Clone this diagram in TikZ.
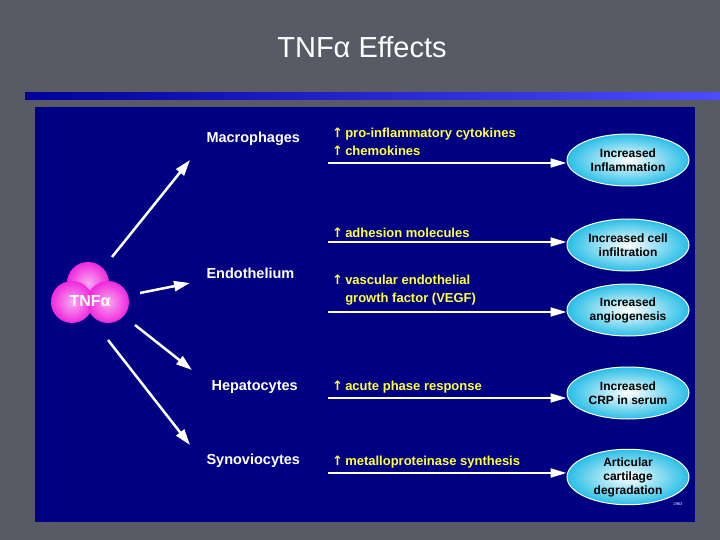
\documentclass[tikz,border=0pt]{standalone}
\usepackage{fontspec}
\setmainfont{Liberation Sans}
\newfontfamily\djv{DejaVu Sans}
\usetikzlibrary{arrows.meta,shapes.geometric}
\definecolor{bggray}{RGB}{88,90,102}
\definecolor{panel}{RGB}{0,0,130}
\definecolor{ylw}{RGB}{255,255,60}
\definecolor{mag}{RGB}{240,40,220}
\definecolor{cyanc}{RGB}{40,190,230}
\newcommand{\up}{{\djv\bfseries ↑}}
\begin{document}
\begin{tikzpicture}[x=1pt,y=-1pt,
 lbl/.style={text=white,font=\bfseries\fontsize{14.5}{17}\selectfont,anchor=west},
 ytx/.style={text=ylw,font=\bfseries\fontsize{13}{18}\selectfont,anchor=west,align=left,inner sep=0pt},
 eff/.style={ellipse,draw=white,line width=1pt,inner color=white,outer color=cyanc,minimum width=122pt,minimum height=52pt,font=\bfseries\fontsize{12}{14}\selectfont,align=center,inner sep=0pt},
 harr/.style={white,line width=2pt,-{Triangle[length=16pt,width=9pt]}},
 darr/.style={white,line width=2.5pt,-{Triangle[length=16pt,width=10pt]}}]
\fill[bggray] (0,0) rectangle (720,540);
\useasboundingbox (0,0) rectangle (720,540);
\shade[left color=blue!60!black,right color=blue!70!white] (25,93) rectangle (720,100);
\fill[panel] (35,107) rectangle (695,522);
\node[text=white,font=\fontsize{29}{32}\selectfont] (title) at (362,47) {TNFα Effects};
% TNF blob
\foreach \p in {(88,283),(72,302),(108,302)} \shade[inner color=mag!40!white,outer color=mag] \p circle (21);
\node[text=white,font=\bfseries\fontsize{16}{18}\selectfont] (tnf) at (90,301) {TNFα};
\node[lbl] (mac) at (203,139) {Macrophages};
\node[lbl] (endo) at (203,273) {Endothelium};
\node[lbl] (hep) at (208,387) {Hepatocytes};
\node[lbl] (syn) at (203,461) {Synoviocytes};
\coordinate (s1) at (112,257); \coordinate (e1) at (190,160);
\coordinate (s2) at (140,293); \coordinate (e2) at (190,283);
\coordinate (s3) at (135,325); \coordinate (e3) at (192,370);
\coordinate (s4) at (108,340); \coordinate (e4) at (190,445);
\draw[darr] (s1)--(e1); \draw[darr] (s2)--(e2); \draw[darr] (s3)--(e3); \draw[darr] (s4)--(e4);
% yellow texts
\node[ytx] (t1) at (332,142) {\up\,pro-inflammatory cytokines\\\up\,chemokines};
\node[ytx] (t2) at (332,233) {\up\,adhesion molecules};
\node[ytx] (t3) at (332,290) {\up\,vascular endothelial\\\phantom{\up\,}growth factor (VEGF)};
\node[ytx] (t4) at (332,387) {\up\,acute phase response};
\node[ytx] (t5) at (332,462) {\up\,metalloproteinase synthesis};
% effects
\node[eff] (f1) at (628,160) {Increased\\Inflammation};
\node[eff] (f2) at (628,245) {Increased cell\\infiltration};
\node[eff] (f3) at (628,310) {Increased\\angiogenesis};
\node[eff] (f4) at (628,393) {Increased\\CRP in serum};
\node[eff] (f5) at (628,477) {Articular\\cartilage\\degradation};
\foreach \y/\f in {163/f1,242/f2,312/f3,398/f4,473/f5}{
 \coordinate (a\f) at (328,\y);
 \draw[harr] (a\f) -- (\f.west|-a\f);}
\node[text=white,font=\fontsize{4}{5}\selectfont] (num) at (678,504) {2963};
\end{tikzpicture}
\end{document}
